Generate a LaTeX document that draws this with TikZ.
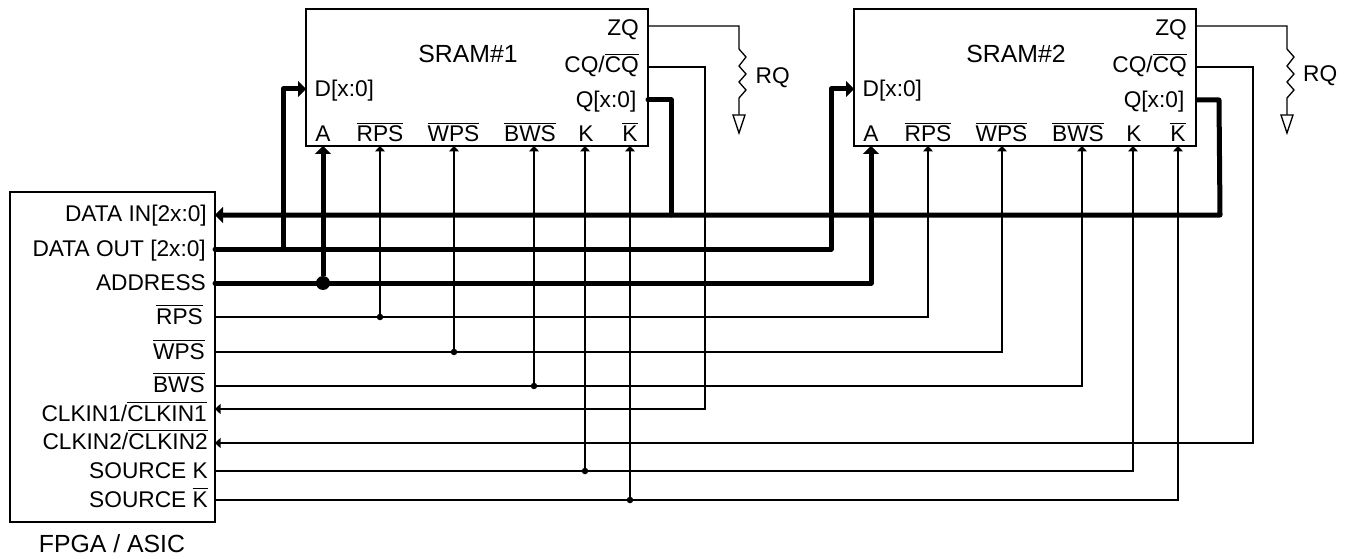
\documentclass[tikz,border=0pt]{standalone}
\usepackage{fontspec}
\setmainfont{Liberation Sans}
\usetikzlibrary{arrows.meta}
\newsavebox{\ovlbox}
\newcommand{\ovl}[1]{\sbox{\ovlbox}{#1}\leavevmode\rlap{\raisebox{17.6pt}{\rule{\wd\ovlbox}{1.2pt}}}\usebox{\ovlbox}}
\tikzset{
  blockbox/.style={draw=black,line width=1.4pt,fill=white,inner sep=0pt},
  lab/.style={inner sep=0pt,font=\fontsize{22.7}{25}\selectfont},
  labr/.style={lab,anchor=base east},
  labl/.style={lab,anchor=base west},
  labc/.style={lab,anchor=base},
  labbig/.style={inner sep=0pt,anchor=base,font=\fontsize{24.8}{27}\selectfont},
  thinline/.style={line width=1.3pt,line join=miter},
  thinarrow/.style={thinline,-{Triangle[length=5.5pt,width=10pt]}},
  busline/.style={line width=5pt,line join=round,line cap=round},
  busarrow/.style={line width=5pt,line join=round,-{Triangle[length=8pt,width=16pt]}},
  bigdot/.style={circle,fill=black,inner sep=0pt,minimum size=14pt},
  smalldot/.style={circle,fill=black,inner sep=0pt,minimum size=6.5pt},
  gndtri/.style={draw=black,line width=1.3pt,fill=white,line join=miter},
}
\begin{document}
\begin{tikzpicture}[x=1pt,y=-1pt]
\useasboundingbox (0,0) rectangle (1347,559);
% blocks
\node[blockbox,minimum width=205pt,minimum height=330pt] (fpga) at (112.5,357) {};
\node[blockbox,minimum width=342pt,minimum height=137pt] (sramA) at (477,77.5) {};
\node[blockbox,minimum width=342pt,minimum height=137pt] (sramB) at (1025,77.5) {};
% FPGA pins
\foreach \n/\y in {di/215,do/249,ad/283,rp/317,wp/352,bw/386,ca/409,cb/443,sk/471,sn/500}
  \coordinate (f\n) at (215,\y);
% SRAM pins
\foreach \s/\o in {A/0,B/548}{
  \coordinate (\s zq) at (648+\o,26);
  \coordinate (\s cq) at (648+\o,67);
  \coordinate (\s q) at (648+\o,100);
  \coordinate (\s d) at (306+\o,89);
  \coordinate (\s a) at (323+\o,146);
  \coordinate (\s rp) at (380+\o,146);
  \coordinate (\s wp) at (454+\o,146);
  \coordinate (\s bw) at (534+\o,146);
  \coordinate (\s k) at (585+\o,146);
  \coordinate (\s n) at (630+\o,146);
  \coordinate (\s rt) at (739+\o,49);
  \coordinate (\s rb) at (739+\o,98);
  \coordinate (\s g) at (739+\o,115);
  \coordinate (\s gl) at (733+\o,115);
  \coordinate (\s gr) at (745+\o,115);
  \coordinate (\s gb) at (739+\o,133);
  \coordinate (\s cqx) at (705+\o,67);
  \coordinate (\s qx) at (671+\o,100);
  % block labels
  \node[labr] (\s lzq) at (639+\o,36) {ZQ};
  \node[labr] (\s lcq) at (639+\o,73) {CQ/\ovl{CQ}};
  \node[labr] (\s lq) at (636.5+\o,108) {Q[x:0]};
  \node[labl] (\s ld) at (314.5+\o,97) {D[x:0]};
  \node[labc] (\s la) at (323+\o,142) {A};
  \node[labc] (\s lrp) at (380+\o,142) {\ovl{RPS}};
  \node[labc] (\s lwp) at (453.5+\o,142) {\ovl{WPS}};
  \node[labc] (\s lbw) at (530+\o,142) {\ovl{BWS}};
  \node[labc] (\s lk) at (586+\o,142) {K};
  \node[labc] (\s ln) at (630+\o,142) {\ovl{K}};
}
\node[labbig] (titleA) at (468,63) {SRAM\#1};
\node[labbig] (titleB) at (1016,63) {SRAM\#2};
\node[labl] (rqA) at (755.5,84) {RQ};
\node[labl] (rqB) at (1303,82) {RQ};
% FPGA labels
\node[labr] (ldi) at (207,222) {DATA IN[2x:0]};
\node[labr] (ldo) at (206,256) {DATA OUT [2x:0]};
\node[labr] (lad) at (206,290) {ADDRESS};
\node[labr] (lrp) at (203,324) {\ovl{RPS}};
\node[labr] (lwp) at (205,359) {\ovl{WPS}};
\node[labr] (lbw) at (205,392) {\ovl{BWS}};
\node[labr] (lca) at (207,421) {CLKIN1/\ovl{CLKIN1}};
\node[labr] (lcb) at (208,449) {CLKIN2/\ovl{CLKIN2}};
\node[labr] (lsk) at (208,478) {SOURCE K};
\node[labr] (lsn) at (208,507) {SOURCE \ovl{K}};
\node[labbig] (lfp) at (112,552) {FPGA / ASIC};
% thin signals
\draw[thinarrow] (frp) -| (Brp);
\draw[thinarrow] (fwp) -| (Bwp);
\draw[thinarrow] (fbw) -| (Bbw);
\draw[thinarrow] (fsk) -| (Bk);
\draw[thinarrow] (fsn) -| (Bn);
\coordinate (cax) at (705,409);
\coordinate (cbx) at (1253,443);
\draw[thinarrow] (Acq) -- (Acqx) -- (cax) -- (fca);
\draw[thinarrow] (Bcq) -- (Bcqx) -- (cbx) -- (fcb);
\node[smalldot] (jrp) at (380,317) {};
\node[smalldot] (jwp) at (454,352) {};
\node[smalldot] (jbw) at (534,386) {};
\node[smalldot] (jk) at (585,471) {};
\node[smalldot] (jn) at (630,500) {};
\draw[thinarrow] (jrp) -- (Arp);
\draw[thinarrow] (jwp) -- (Awp);
\draw[thinarrow] (jbw) -- (Abw);
\draw[thinarrow] (jk) -- (Ak);
\draw[thinarrow] (jn) -- (An);
% buses
\coordinate (qbx) at (1220,215);
\coordinate (qax) at (671,215);
\coordinate (dbx) at (831,89);
\coordinate (jdo) at (283,249);
\draw[busarrow] (Bq) -- (Bqx) -- (qbx) -- (fdi);
\draw[busline] (Aq) -- (Aqx) -- (qax);
\draw[busarrow,line cap=round] (fdo) -| (dbx) -- (Bd);
\draw[busarrow] (jdo) |- (Ad);
\draw[busarrow,line cap=round] (fad) -| (Ba);
\node[bigdot] (jad) at (323,283) {};
\draw[busarrow] (jad) -- (Aa);
% resistors and ground
\foreach \s in {A,B}{
  \draw[thinline] (\s zq) -| (\s rt)
    -- ++(7,8) -- ++(-7,9) -- ++(7,8) -- ++(-7,8) -- ++(7,8) -- (\s rb) -- (\s g);
  \draw[gndtri] (\s gl) -- (\s gr) -- (\s gb) -- cycle;
}
\end{tikzpicture}
\end{document}
